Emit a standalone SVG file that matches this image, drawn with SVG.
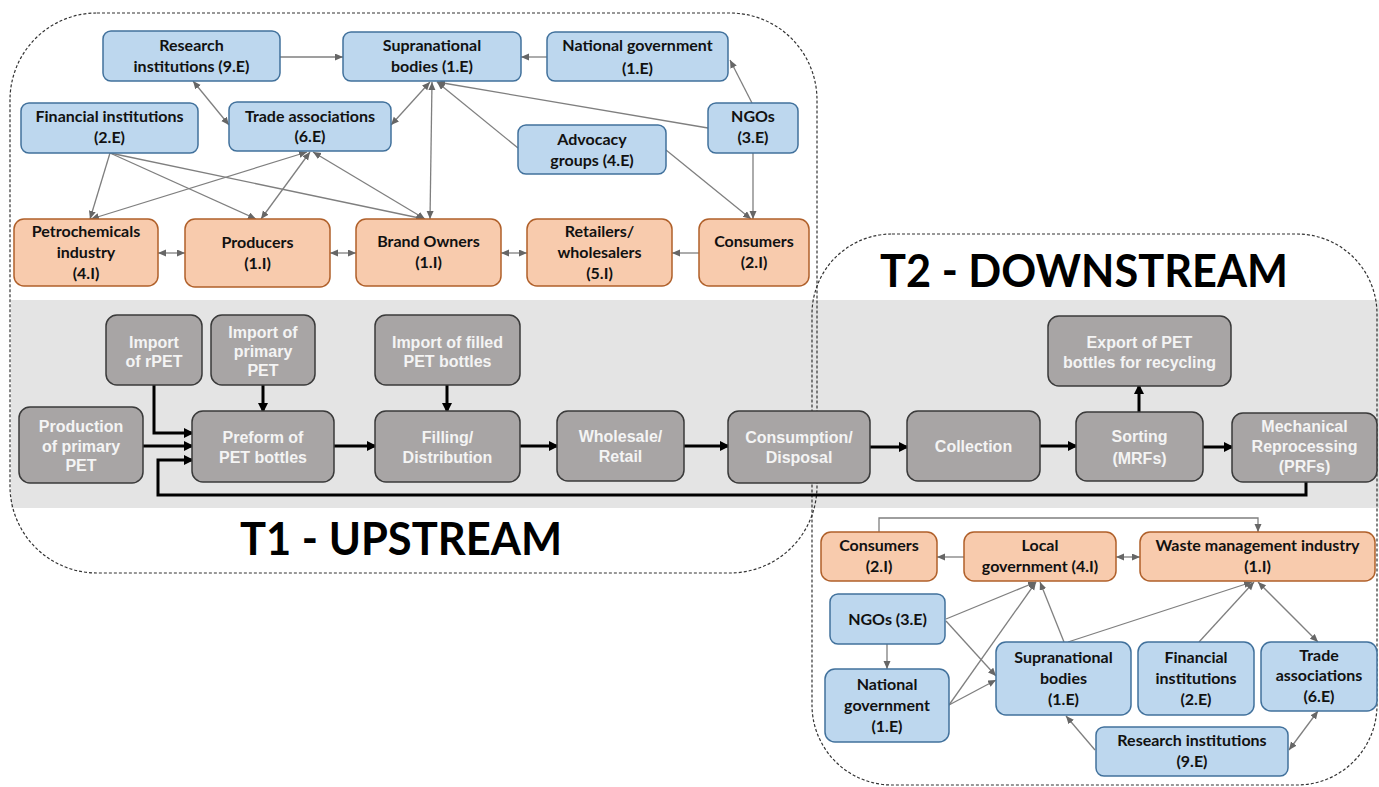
<svg xmlns="http://www.w3.org/2000/svg" width="1379" height="787" viewBox="0 0 1379 787">
<style>
.bl{fill:#bdd7ee;stroke:#41719c;stroke-width:1.5}
.or{fill:#f8cbad;stroke:#b0602a;stroke-width:1.5}
.gr{fill:#a8a5a5;stroke:#3a3a3a;stroke-width:1.5}
.t{font-family:Lato,"Liberation Sans",sans-serif;font-weight:700;font-size:16px;fill:#111;text-anchor:middle}
.w{font-family:"Liberation Sans",Arial,sans-serif;font-weight:700;font-size:16px;fill:#f4f4f4;text-anchor:middle}
.c{fill:none;stroke:#7f7f7f;stroke-width:1.3}
.k{fill:none;stroke:#000;stroke-width:3}
.bd{fill:none;stroke:#333;stroke-width:1.2;stroke-dasharray:3 2}
.title{font-family:Lato,"Liberation Sans",sans-serif;font-weight:700;font-size:46px;fill:#000;text-anchor:middle}
</style>
<defs>
<marker id="ka" markerUnits="userSpaceOnUse" markerWidth="12" markerHeight="12" refX="8" refY="5" orient="auto"><path d="M0,0 L10,5 L0,10 z" fill="#000"/></marker>
<marker id="ga" markerUnits="userSpaceOnUse" markerWidth="10" markerHeight="10" refX="8" refY="3.5" orient="auto-start-reverse"><path d="M0,0 L8,3.5 L0,7 z" fill="#666"/></marker>
</defs>
<rect x="0" y="0" width="1379" height="787" fill="#fff"/>
<rect x="11" y="300" width="1368" height="208" fill="#e4e4e4"/>
<g id="boundaries">
<rect class="bd" x="10" y="13" width="807" height="560" rx="87"/>
<rect class="bd" x="812" y="234" width="565" height="551" rx="80"/>
<text class="title" x="401" y="555" textLength="322" lengthAdjust="spacingAndGlyphs">T1 - UPSTREAM</text>
<text class="title" x="1084" y="287" textLength="408" lengthAdjust="spacingAndGlyphs">T2 - DOWNSTREAM</text>
</g>
<g id="connectors">
<path class="c" d="M280,57 L343,57" marker-end="url(#ga)"/>
<path class="c" d="M547,57 L521,57" marker-end="url(#ga)"/>
<path class="c" d="M752,103 L730,60" marker-end="url(#ga)"/>
<path class="c" d="M193,81 L229,125" marker-start="url(#ga)" marker-end="url(#ga)"/>
<path class="c" d="M391,125 L430,82" marker-start="url(#ga)" marker-end="url(#ga)"/>
<path class="c" d="M432,82 L430,219" marker-start="url(#ga)" marker-end="url(#ga)"/>
<path class="c" d="M518,148 L437,82" marker-end="url(#ga)"/>
<path class="c" d="M708,128 L437,82" marker-end="url(#ga)"/>
<path class="c" d="M753,153 L753,219" marker-end="url(#ga)"/>
<path class="c" d="M666,150 L751,219" marker-end="url(#ga)"/>
<path class="c" d="M699,253 L672,253" marker-end="url(#ga)"/>
<path class="c" d="M501,253 L527,253" marker-start="url(#ga)" marker-end="url(#ga)"/>
<path class="c" d="M330,253 L356,253" marker-start="url(#ga)" marker-end="url(#ga)"/>
<path class="c" d="M158,253 L185,253" marker-start="url(#ga)" marker-end="url(#ga)"/>
<path class="c" d="M110,153 L90,219" marker-end="url(#ga)"/>
<path class="c" d="M110,153 L256,219" marker-end="url(#ga)"/>
<path class="c" d="M110,153 L424,219" marker-end="url(#ga)"/>
<path class="c" d="M307,152 L91,219" marker-start="url(#ga)" marker-end="url(#ga)"/>
<path class="c" d="M310,152 L261,219" marker-start="url(#ga)" marker-end="url(#ga)"/>
<path class="c" d="M313,152 L425,219" marker-start="url(#ga)" marker-end="url(#ga)"/>
<path class="k" d="M154,385 L154,433 L192,433" marker-end="url(#ka)"/>
<path class="k" d="M143,446 L192,446" marker-end="url(#ka)"/>
<path class="k" d="M1306,482 L1306,495 L158,495 L158,460 L192,460" marker-end="url(#ka)"/>
<path class="k" d="M263,385 L263,411" marker-end="url(#ka)"/>
<path class="k" d="M447,385 L447,411" marker-end="url(#ka)"/>
<path class="k" d="M334,446 L375,446" marker-end="url(#ka)"/>
<path class="k" d="M520,446 L557,446" marker-end="url(#ka)"/>
<path class="k" d="M684,446 L728,446" marker-end="url(#ka)"/>
<path class="k" d="M870,447 L907,447" marker-end="url(#ka)"/>
<path class="k" d="M1040,446 L1076,446" marker-end="url(#ka)"/>
<path class="k" d="M1203,447 L1232,447" marker-end="url(#ka)"/>
<path class="k" d="M1139,412 L1139,386" marker-end="url(#ka)"/>
<path class="c" d="M879,532 L879,518 L1258,518 L1258,532" marker-end="url(#ga)"/>
<path class="c" d="M964,557 L937,557" marker-end="url(#ga)"/>
<path class="c" d="M1116,557 L1140,557" marker-start="url(#ga)" marker-end="url(#ga)"/>
<path class="c" d="M946,619 L1036,582" marker-end="url(#ga)"/>
<path class="c" d="M946,621 L996,676" marker-end="url(#ga)"/>
<path class="c" d="M887,644 L887,669" marker-end="url(#ga)"/>
<path class="c" d="M949,705 L1036,582" marker-end="url(#ga)"/>
<path class="c" d="M949,705 L996,680" marker-end="url(#ga)"/>
<path class="c" d="M1064,642 L1040,582" marker-end="url(#ga)"/>
<path class="c" d="M1068,642 L1252,582" marker-end="url(#ga)"/>
<path class="c" d="M1199,642 L1254,582" marker-end="url(#ga)"/>
<path class="c" d="M1258,582 L1318,642" marker-start="url(#ga)" marker-end="url(#ga)"/>
<path class="c" d="M1095,750 L1066,716" marker-end="url(#ga)"/>
<path class="c" d="M1289,750 L1318,711" marker-start="url(#ga)" marker-end="url(#ga)"/>
</g>
<g id="n-research1"><rect class="bl" x="103" y="31" width="177" height="50" rx="8"/><text class="t" x="191.5" y="51">Research</text><text class="t" x="191.5" y="72">institutions (9.E)</text></g>
<g id="n-supra1"><rect class="bl" x="343" y="32" width="178" height="49" rx="8"/><text class="t" x="432" y="51">Supranational</text><text class="t" x="432" y="72">bodies (1.E)</text></g>
<g id="n-natgov1"><rect class="bl" x="547" y="32" width="181" height="49" rx="8"/><text class="t" x="637.5" y="51">National government</text><text class="t" x="637.5" y="74">(1.E)</text></g>
<g id="n-fin1"><rect class="bl" x="21" y="103" width="177" height="50" rx="8"/><text class="t" x="109.5" y="122">Financial institutions</text><text class="t" x="109.5" y="143">(2.E)</text></g>
<g id="n-trade1"><rect class="bl" x="229" y="102" width="162" height="49" rx="8"/><text class="t" x="310" y="122">Trade associations</text><text class="t" x="310" y="142">(6.E)</text></g>
<g id="n-advocacy"><rect class="bl" x="518" y="125" width="148" height="49" rx="8"/><text class="t" x="592" y="145">Advocacy</text><text class="t" x="592" y="166">groups (4.E)</text></g>
<g id="n-ngos1"><rect class="bl" x="708" y="103" width="90" height="50" rx="8"/><text class="t" x="753" y="122">NGOs</text><text class="t" x="753" y="143">(3.E)</text></g>
<g id="n-petro"><rect class="or" x="14" y="219" width="144" height="67" rx="10"/><text class="t" x="86" y="237">Petrochemicals</text><text class="t" x="86" y="258">industry</text><text class="t" x="86" y="279">(4.I)</text></g>
<g id="n-producers"><rect class="or" x="185" y="219" width="145" height="68" rx="10"/><text class="t" x="257.5" y="248">Producers</text><text class="t" x="257.5" y="269">(1.I)</text></g>
<g id="n-brand"><rect class="or" x="356" y="219" width="145" height="67" rx="10"/><text class="t" x="428.5" y="247">Brand Owners</text><text class="t" x="428.5" y="268">(1.I)</text></g>
<g id="n-retail"><rect class="or" x="527" y="219" width="145" height="67" rx="10"/><text class="t" x="599.5" y="237">Retailers/</text><text class="t" x="599.5" y="258">wholesalers</text><text class="t" x="599.5" y="279">(5.I)</text></g>
<g id="n-consumers1"><rect class="or" x="699" y="219" width="110" height="67" rx="10"/><text class="t" x="754" y="247">Consumers</text><text class="t" x="754" y="268">(2.I)</text></g>
<g id="p-import-rpet"><rect class="gr" x="106" y="315" width="96" height="70" rx="11"/><text class="w" x="154" y="348">Import</text><text class="w" x="154" y="367">of rPET</text></g>
<g id="p-import-primary"><rect class="gr" x="211" y="315" width="104" height="70" rx="11"/><text class="w" x="263" y="338">Import of</text><text class="w" x="263" y="357">primary</text><text class="w" x="263" y="376">PET</text></g>
<g id="p-import-filled"><rect class="gr" x="375" y="315" width="145" height="70" rx="11"/><text class="w" x="447.5" y="348">Import of filled</text><text class="w" x="447.5" y="367">PET bottles</text></g>
<g id="p-production"><rect class="gr" x="19" y="407" width="124" height="76" rx="11"/><text class="w" x="81" y="432">Production</text><text class="w" x="81" y="452">of primary</text><text class="w" x="81" y="471">PET</text></g>
<g id="p-preform"><rect class="gr" x="192" y="411" width="142" height="71" rx="11"/><text class="w" x="263" y="443">Preform of</text><text class="w" x="263" y="463">PET bottles</text></g>
<g id="p-filling"><rect class="gr" x="375" y="411" width="145" height="71" rx="11"/><text class="w" x="447.5" y="443">Filling/</text><text class="w" x="447.5" y="463">Distribution</text></g>
<g id="p-wholesale"><rect class="gr" x="557" y="411" width="127" height="70" rx="11"/><text class="w" x="620.5" y="442">Wholesale/</text><text class="w" x="620.5" y="462">Retail</text></g>
<g id="p-consumption"><rect class="gr" x="728" y="411" width="142" height="72" rx="11"/><text class="w" x="799" y="443">Consumption/</text><text class="w" x="799" y="463">Disposal</text></g>
<g id="p-collection"><rect class="gr" x="907" y="411" width="133" height="70" rx="11"/><text class="w" x="973.5" y="452">Collection</text></g>
<g id="p-export"><rect class="gr" x="1048" y="316" width="183" height="70" rx="11"/><text class="w" x="1139.5" y="348">Export of PET</text><text class="w" x="1139.5" y="368">bottles for recycling</text></g>
<g id="p-sorting"><rect class="gr" x="1076" y="412" width="127" height="69" rx="11"/><text class="w" x="1139.5" y="442">Sorting</text><text class="w" x="1139.5" y="464">(MRFs)</text></g>
<g id="p-mechanical"><rect class="gr" x="1232" y="413" width="145" height="69" rx="11"/><text class="w" x="1304.5" y="432">Mechanical</text><text class="w" x="1304.5" y="452">Reprocessing</text><text class="w" x="1304.5" y="472">(PRFs)</text></g>
<g id="n-consumers2"><rect class="or" x="821" y="532" width="116" height="49" rx="10"/><text class="t" x="879" y="551">Consumers</text><text class="t" x="879" y="572">(2.I)</text></g>
<g id="n-localgov"><rect class="or" x="964" y="532" width="152" height="49" rx="10"/><text class="t" x="1040" y="551">Local</text><text class="t" x="1040" y="572">government (4.I)</text></g>
<g id="n-waste"><rect class="or" x="1140" y="532" width="235" height="49" rx="10"/><text class="t" x="1257.5" y="551">Waste management industry</text><text class="t" x="1257.5" y="572">(1.I)</text></g>
<g id="n-ngos2"><rect class="bl" x="830" y="594" width="115" height="50" rx="8"/><text class="t" x="887.5" y="625">NGOs (3.E)</text></g>
<g id="n-natgov2"><rect class="bl" x="825" y="669" width="124" height="73" rx="10"/><text class="t" x="887" y="690">National</text><text class="t" x="887" y="711">government</text><text class="t" x="887" y="732">(1.E)</text></g>
<g id="n-supra2"><rect class="bl" x="996" y="642" width="135" height="73" rx="10"/><text class="t" x="1063.5" y="663">Supranational</text><text class="t" x="1063.5" y="684">bodies</text><text class="t" x="1063.5" y="705">(1.E)</text></g>
<g id="n-fin2"><rect class="bl" x="1138" y="642" width="116" height="73" rx="10"/><text class="t" x="1196" y="663">Financial</text><text class="t" x="1196" y="684">institutions</text><text class="t" x="1196" y="705">(2.E)</text></g>
<g id="n-trade2"><rect class="bl" x="1261" y="642" width="116" height="69" rx="10"/><text class="t" x="1319" y="661">Trade</text><text class="t" x="1319" y="681">associations</text><text class="t" x="1319" y="702">(6.E)</text></g>
<g id="n-research2"><rect class="bl" x="1096" y="727" width="192" height="49" rx="8"/><text class="t" x="1192" y="746">Research institutions</text><text class="t" x="1192" y="767">(9.E)</text></g>
</svg>
